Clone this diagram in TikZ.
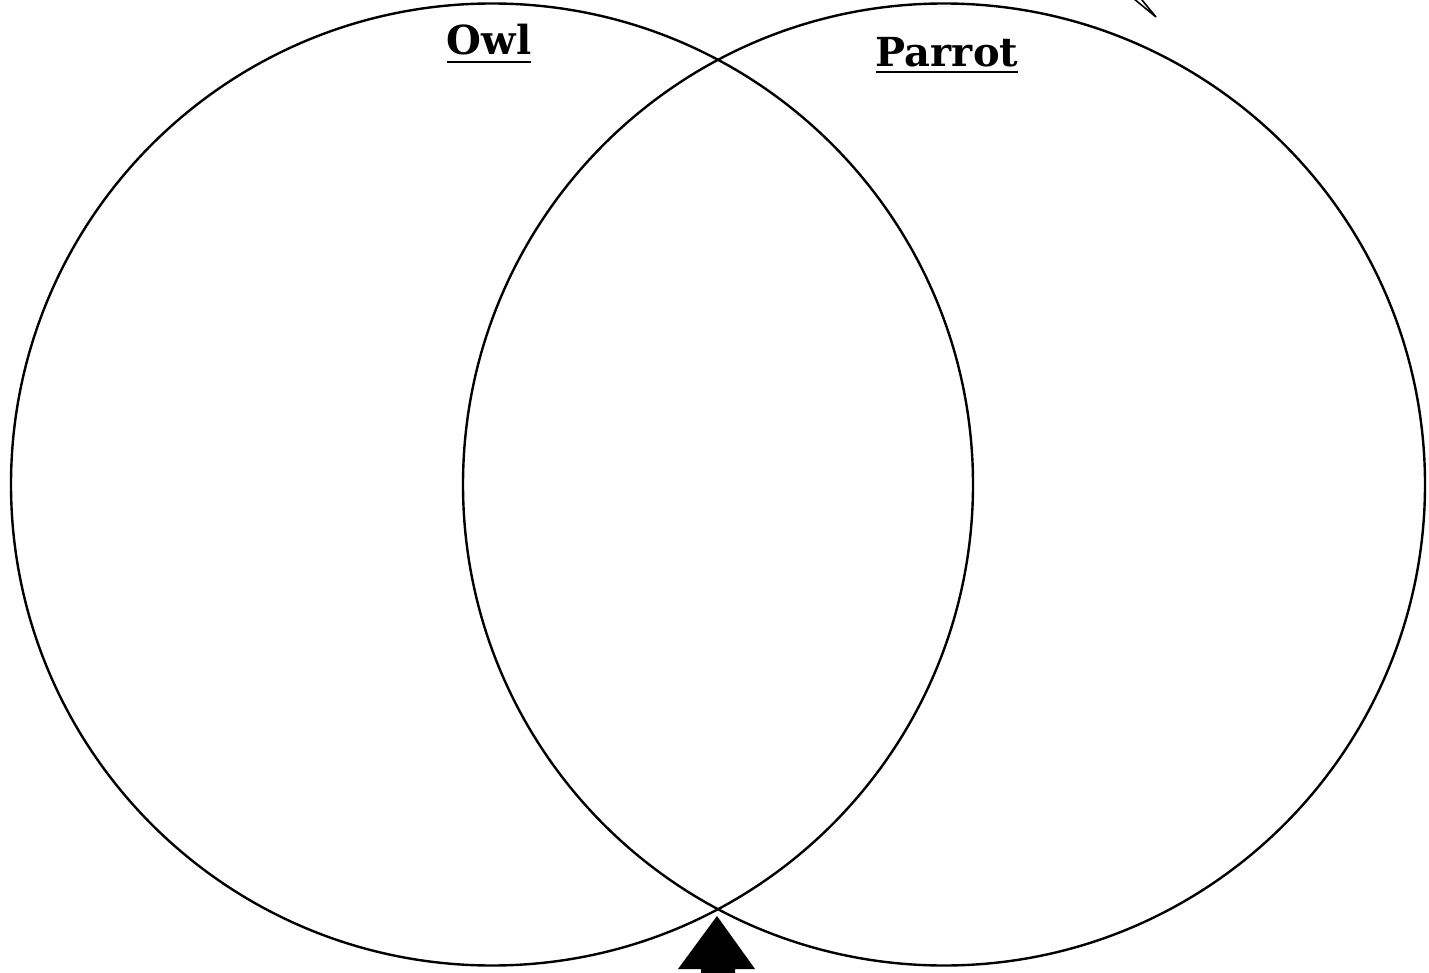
\documentclass[tikz,border=0pt]{standalone}
\usepackage{fontspec}
\setmainfont{DejaVu Serif}
\usepackage{tikz}

\tikzset{
  ring/.style={circle,draw,line width=2.4pt,minimum size=962pt,inner sep=0pt},
  title/.style={font=\fontsize{40}{44}\selectfont\bfseries,inner sep=0pt,anchor=base},
  rule/.style={line width=2.4pt}
}

\begin{document}
\begin{tikzpicture}[x=1pt,y=-1pt]
  \useasboundingbox (0,0) rectangle (1429,973);
  \node[ring] (owlset) at (492,484.5) {};
  \node[ring] (parrotset) at (944,484.5) {};
  \node[title] (owl) at (489,55) {Owl};
  \node[title] (parrot) at (947,67) {Parrot};
  \draw[rule] ([yshift=-7pt]owl.base west) -- ([yshift=-7pt]owl.base east);
  \draw[rule] ([yshift=-5pt]parrot.base west) -- ([yshift=-5pt]parrot.base east);
  % arrow under the overlap
  \coordinate (tip) at (717,916);
  \fill (tip) -- ++(38,53) -- ++(-20,0) -- ++(0,10) -- ++(-34,0) -- ++(0,-10) -- ++(-23,0) -- cycle;
  % cut-off tail at the top
  \draw[line width=1.6pt,line join=miter] (1128,-6) -- (1156,17) -- (1137,-6);
\end{tikzpicture}
\end{document}
